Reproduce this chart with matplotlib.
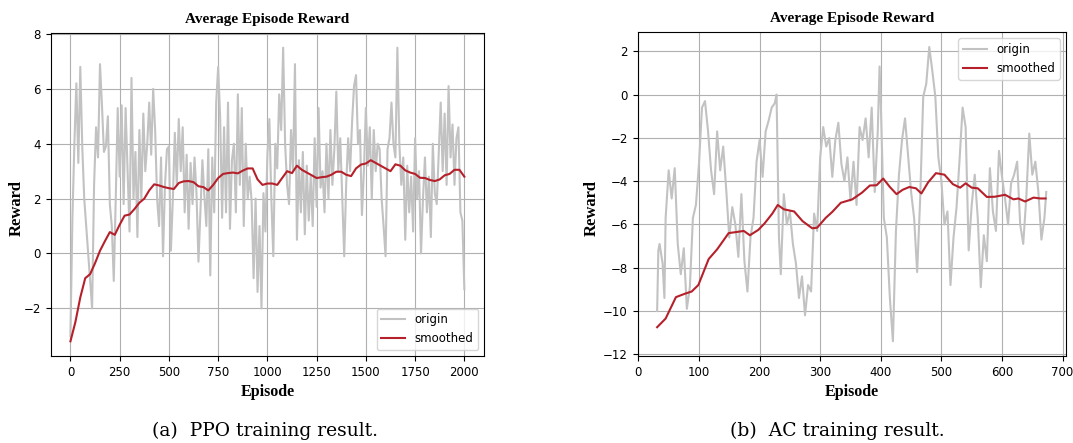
import numpy as np
import matplotlib
matplotlib.use('Agg')
import matplotlib.pyplot as plt

ppo_episode = np.arange(0, 2001, 10)
ppo_origin = [
    -3.0, 1.3, 4.0, 6.2, 3.3, 6.8, 3.9, 2.0, 1.0, 0.0,
    -1.0, -2.0, 2.5, 4.6, 3.5, 6.9, 5.4, 3.7, 3.9, 5.0,
    1.8, 1.0, -1.0, 2.0, 5.3, 2.8, 5.4, 1.8, 5.3, 3.0,
    0.8, 6.4, 2.0, 3.7, 0.6, 4.5, 2.0, 5.1, 3.0, 4.0,
    5.5, 3.6, 6.0, 4.5, 2.0, 1.0, 3.5, -0.1, 2.5, 3.8,
    3.9, 0.1, 2.0, 4.4, 2.5, 4.9, 3.0, 4.6, 1.5, 3.6,
    0.9, 3.3, 1.8, 3.5, 2.2, -0.3, 1.5, 3.4, 2.1, 1.0,
    3.8, -0.8, 3.5, 1.5, 5.5, 6.8, 5.0, 1.3, 4.6, 1.5,
    5.5, 0.9, 3.4, 4.0, 1.5, 5.8, 2.5, 5.3, 1.0, 4.0,
    2.0, 2.8, 1.9, -0.9, 2.0, -1.4, 1.0, -2.0, 2.2, 0.8,
    3.6, 4.9, 2.0, -0.1, 4.0, 3.1, 5.8, 4.5, 7.5, 4.0,
    2.5, 1.8, 4.5, 3.0, 6.9, 0.5, 3.4, 1.5, 3.7, 0.7,
    3.2, 1.2, 2.8, 1.0, 4.2, 1.7, 5.3, 2.4, 3.0, 1.5,
    4.0, 2.0, 4.5, 2.5, 3.8, 5.9, 3.0, 4.2, 2.0, -0.1,
    2.5, 4.2, 3.0, 4.8, 6.1, 6.5, 4.0, 4.5, 1.4, 3.0,
    5.3, 3.2, 4.6, 2.0, 4.5, 3.0, 4.0, 3.8, 2.0, 1.0,
    -0.1, 3.8, 4.2, 5.5, 4.0, 3.5, 7.5, 4.0, 2.5, 3.5,
    0.5, 3.2, 1.5, 2.8, 0.8, 4.2, 2.0, 3.0, 0.0, 2.0,
    3.5, 1.5, 2.8, 0.6, 4.0, 2.2, 1.8, 3.6, 5.5, 3.0,
    5.1, 2.5, 6.1, 3.5, 4.7, 2.5, 4.2, 4.6, 1.5, 1.2,
    -1.3,
]

ppo_smooth_ep = [0, 25, 50, 75, 100, 125, 150, 175, 200, 225, 250, 275, 300,
                 325, 350, 375, 400, 425, 450, 475, 500, 525, 550, 575, 600,
                 625, 650, 675, 700, 725, 750, 775, 800, 825, 850, 875, 900,
                 925, 950, 975, 1000, 1025, 1050, 1075, 1100, 1125, 1150,
                 1175, 1200, 1225, 1250, 1275, 1300, 1325, 1350, 1375, 1400,
                 1425, 1450, 1475, 1500, 1525, 1550, 1575, 1600, 1625, 1650,
                 1675, 1700, 1725, 1750, 1775, 1800, 1825, 1850, 1875, 1900,
                 1925, 1950, 1975, 2000]
ppo_smoothed = [-3.2, -2.5, -1.6, -0.9, -0.75, -0.35, 0.1, 0.45, 0.78, 0.68,
                1.05, 1.38, 1.42, 1.62, 1.85, 2.0, 2.3, 2.52, 2.48, 2.42,
                2.38, 2.35, 2.57, 2.63, 2.64, 2.6, 2.45, 2.42, 2.3, 2.5,
                2.75, 2.9, 2.93, 2.95, 2.92, 3.02, 3.1, 3.1, 2.7, 2.5,
                2.55, 2.55, 2.5, 2.75, 3.0, 2.93, 3.2, 3.05, 2.95, 2.85,
                2.75, 2.78, 2.8, 2.87, 2.98, 2.98, 2.87, 2.82, 3.1, 3.24,
                3.28, 3.4, 3.3, 3.2, 3.1, 3.0, 3.25, 3.2, 3.03, 2.95,
                2.9, 2.76, 2.75, 2.68, 2.64, 2.7, 2.85, 2.9, 3.05, 3.05, 2.8]

# AC
ac_episode = [31, 33, 35, 40, 43, 45, 50, 55, 60, 65, 70, 75, 80, 85, 90, 95,
              100, 105, 110, 115, 120, 125, 130, 135, 140, 145, 150, 155, 160,
              165, 170, 175, 180, 185, 190, 195, 200, 205, 210, 215, 220, 225,
              228, 232, 235, 240, 245, 250, 255, 260, 265, 270, 275, 280, 285,
              290, 295, 300, 305, 310, 315, 320, 325, 330, 335, 340, 345, 350,
              355, 360, 365, 370, 375, 380, 385, 390, 395, 398, 400, 405, 410,
              415, 420, 425, 430, 435, 440, 445, 450, 455, 460, 465, 470, 475,
              480, 485, 490, 495, 500, 505, 510, 515, 520, 525, 530, 535, 540,
              545, 550, 555, 560, 565, 570, 575, 580, 585, 590, 595, 600, 605,
              610, 615, 620, 625, 630, 635, 640, 645, 650, 655, 660, 665, 670,
              673]
ac_origin = [-10.0, -7.2, -6.9, -7.8, -9.4, -5.7, -3.5, -4.8, -3.4, -6.9,
             -8.3, -7.1, -9.9, -8.9, -5.7, -5.1, -3.2, -0.6, -0.3, -1.7,
             -3.5, -4.6, -1.7, -3.5, -2.4, -4.4, -6.6, -5.2, -6.0, -7.5,
             -4.6, -7.7, -9.1, -6.6, -5.7, -3.1, -2.1, -3.8, -1.7, -1.2,
             -0.6, -0.4, 0.0, -6.6, -8.3, -4.6, -6.0, -5.4, -6.9, -7.8,
             -9.4, -8.4, -10.2, -8.8, -9.1, -5.5, -6.3, -2.9, -1.5, -2.4,
             -2.0, -3.8, -2.1, -1.3, -3.2, -4.0, -2.9, -4.9, -3.1, -5.1,
             -1.5, -2.1, -1.1, -2.9, -0.6, -4.5, -1.7, 1.3, -0.4, -5.7,
             -6.6, -9.4, -11.4, -6.3, -3.7, -2.1, -1.1, -2.8, -4.5, -5.7,
             -8.2, -4.8, -0.1, 0.5, 2.2, 1.1, -0.1, -2.9, -4.0, -6.0,
             -5.4, -8.8, -6.6, -5.2, -3.0, -0.6, -1.5, -7.2, -5.1, -3.7,
             -5.7, -8.9, -6.5, -7.7, -3.4, -5.4, -6.3, -2.6, -3.8, -4.8,
             -6.0, -4.1, -3.7, -3.1, -6.0, -6.9, -4.8, -1.8, -3.7, -3.1,
             -4.5, -6.7, -5.7, -4.5]

ac_smooth_ep = [31, 45, 62, 77, 88, 99, 116, 130, 149, 162, 174, 184, 198,
                208, 221, 230, 240, 257, 271, 287, 295, 309, 320, 334, 353,
                369, 382, 393, 404, 415, 426, 436, 447, 458, 467, 478, 491,
                505, 519, 531, 540, 550, 560, 575, 588, 605, 619, 627, 638,
                652, 663, 672]
ac_smoothed = [-10.75, -10.35, -9.36, -9.2, -9.1, -8.8, -7.6, -7.15, -6.4,
               -6.35, -6.3, -6.5, -6.25, -5.96, -5.5, -5.1, -5.3, -5.4, -5.85,
               -6.18, -6.15, -5.7, -5.42, -5.0, -4.84, -4.53, -4.2, -4.19,
               -3.88, -4.27, -4.6, -4.4, -4.27, -4.33, -4.57, -4.06, -3.63,
               -3.7, -4.14, -4.3, -4.1, -4.3, -4.33, -4.73, -4.72, -4.63,
               -4.84, -4.8, -4.94, -4.76, -4.8, -4.8]

origin_color = '#c2c2c2'
smooth_color = '#b5202a'
serif = ['Liberation Serif', 'DejaVu Serif']


def draw_panel(ax, ep, origin, sm_ep, smoothed, legend_loc, ylab_x):
    ax.plot(ep, origin, color=origin_color, lw=1.5, label='origin')
    ax.plot(sm_ep, smoothed, color=smooth_color, lw=1.5, label='smoothed')
    ax.grid(True, color='#b0b0b0', lw=0.8)
    ax.set_title('Average Episode Reward', family=serif, fontweight='bold',
                 fontsize=11, pad=7.5)
    ax.set_xlabel('Episode', family=serif, fontweight='bold', fontsize=11.5)
    ax.set_ylabel('Reward', family=serif, fontweight='bold', fontsize=12)
    ax.yaxis.set_label_coords(ylab_x, 0.458)
    ax.tick_params(labelsize=8.5)
    ax.legend(loc=legend_loc, fontsize=8.5)


fig = plt.figure(figsize=(10.73, 4.43), dpi=100)
ax1 = fig.add_axes([0.0473, 0.1964, 0.4038, 0.7291])
ax2 = fig.add_axes([0.5943, 0.1964, 0.3989, 0.7307])

draw_panel(ax1, ppo_episode, ppo_origin, ppo_smooth_ep, ppo_smoothed,
           'lower right', -0.059)
draw_panel(ax2, ac_episode, ac_origin, ac_smooth_ep, ac_smoothed,
           'upper right', -0.088)
ax1.set_xticks([0, 250, 500, 750, 1000, 1250, 1500, 1750, 2000])

cap_font = ['DejaVu Serif']
fig.text(0.247, 0.027, '(a)  PPO training result.', family=cap_font,
         fontsize=13.5, ha='center', va='center')
fig.text(0.780, 0.027, '(b)  AC training result.', family=cap_font,
         fontsize=13.5, ha='center', va='center')

fig.savefig('out.png', dpi=100)
